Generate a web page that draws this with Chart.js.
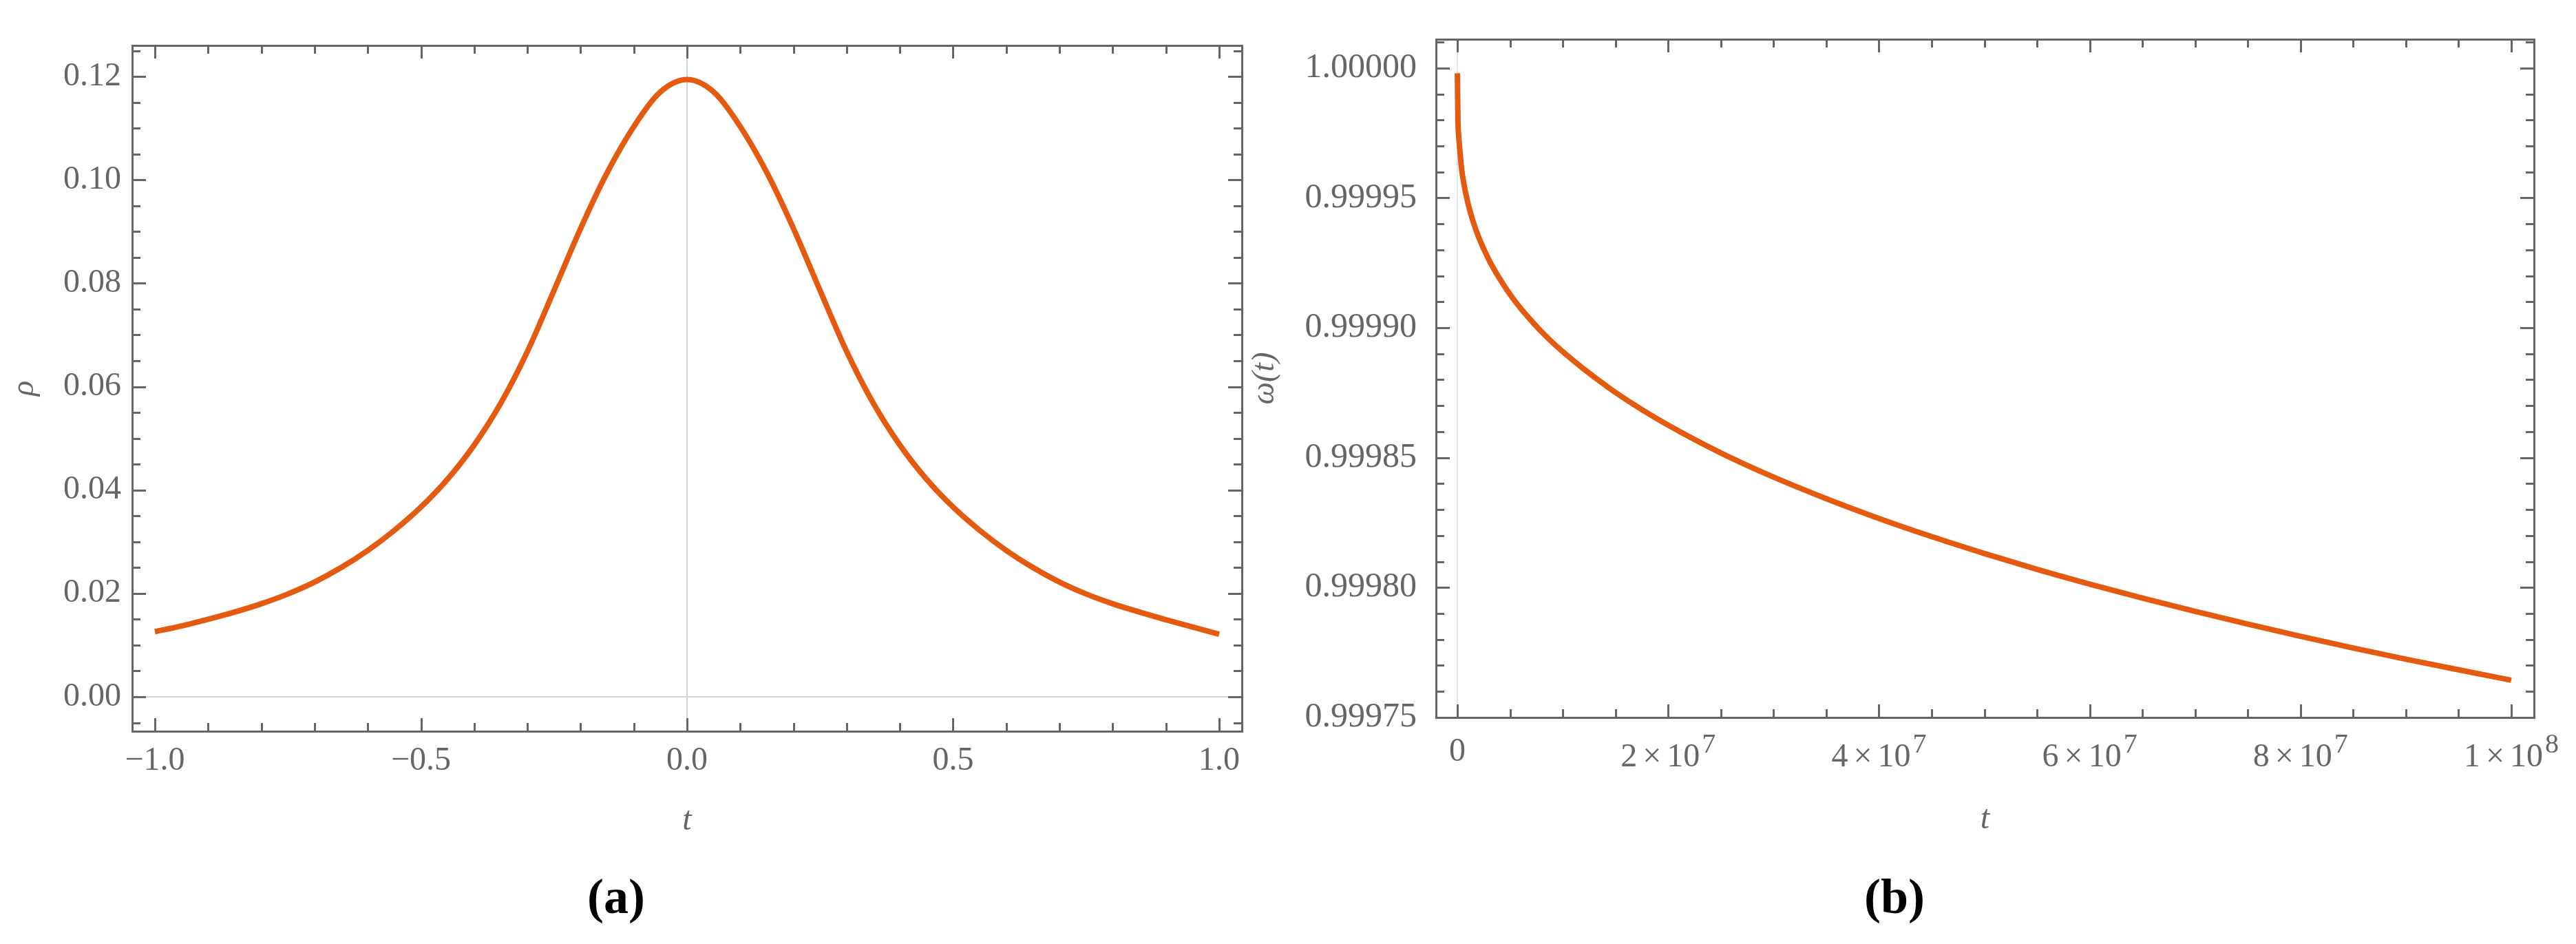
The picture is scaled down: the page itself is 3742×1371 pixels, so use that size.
<!DOCTYPE html>
<html>
<head>
<meta charset="utf-8">
<title>ρ(t) and ω(t)</title>
<script src="https://cdn.jsdelivr.net/npm/chart.js@4.4.1/dist/chart.umd.min.js"></script>
<style>
  html, body { margin: 0; padding: 0; background: #ffffff; }
  body { width: 3742px; height: 1371px; position: relative; overflow: hidden; }
  canvas { position: absolute; top: 0; }
  #chartA { left: 0; }
  #chartB { left: 1780px; }
</style>
</head>
<body>
<canvas id="chartA" width="1840" height="1371"></canvas>
<canvas id="chartB" width="1962" height="1371"></canvas>
<script>
// ---------------- data ----------------
// panel (a): rho versus t
const tA = [-1.00, -0.95, -0.90, -0.85, -0.80, -0.75, -0.70, -0.65, -0.60, -0.55,
            -0.50, -0.45, -0.40, -0.35, -0.30, -0.25, -0.20, -0.15, -0.10, -0.05,
             0.00,  0.05,  0.10,  0.15,  0.20,  0.25,  0.30,  0.35,  0.40,  0.45,
             0.50,  0.55,  0.60,  0.65,  0.70,  0.75,  0.80,  0.85,  0.90,  0.95, 1.00];
const rhoA = [0.0126, 0.0137, 0.0150, 0.0164, 0.0180, 0.0199, 0.0222, 0.0250, 0.0283, 0.0322,
              0.0367, 0.0421, 0.0487, 0.0568, 0.0668, 0.0786, 0.0906, 0.1014, 0.1103, 0.1170,
              0.1194, 0.1170, 0.1103, 0.1014, 0.0906, 0.0786, 0.0668, 0.0568, 0.0487, 0.0421,
              0.0367, 0.0322, 0.0283, 0.0250, 0.0222, 0.0199, 0.0180, 0.0164, 0.0149, 0.0135, 0.0121];
const xTicksA = [-1, -0.5, 0, 0.5, 1];
const xTickLabelsA = ['−1.0', '−0.5', '0.0', '0.5', '1.0'];
const yTicksA = [0, 0.02, 0.04, 0.06, 0.08, 0.10, 0.12];
const yTickLabelsA = ['0.00', '0.02', '0.04', '0.06', '0.08', '0.10', '0.12'];
const axisTitlesA = ['t', 'ρ'];

// panel (b): omega(t) versus t
const tB = [0, 5e4, 1e5, 2e5, 4e5, 6e5, 1e6, 1.5e6, 2e6, 3e6, 4e6, 5e6, 6e6, 7e6, 8e6, 9e6,
            1e7, 1.1e7, 1.2e7, 1.3e7, 1.4e7, 1.5e7, 1.75e7, 2e7, 2.5e7, 3e7, 3.5e7, 4e7,
            4.5e7, 5e7, 5.5e7, 6e7, 6.5e7, 7e7, 7.5e7, 8e7, 8.5e7, 9e7, 9.5e7, 1e8];
const omegaB = [0.9999980, 0.9999801, 0.9999751, 0.9999700, 0.9999612, 0.9999558, 0.9999480,
                0.9999408, 0.9999351, 0.9999261, 0.9999190, 0.9999128, 0.9999075, 0.9999028,
                0.9998984, 0.9998944, 0.9998908, 0.9998874, 0.9998841, 0.9998810, 0.9998780,
                0.9998751, 0.9998685, 0.9998625, 0.9998518, 0.9998425, 0.9998342, 0.9998266,
                0.9998196, 0.9998131, 0.9998070, 0.9998013, 0.9997959, 0.9997908, 0.9997859,
                0.9997812, 0.9997767, 0.9997724, 0.9997683, 0.9997643];
const xTicksB = [0, 2e7, 4e7, 6e7, 8e7, 1e8];
const xTickMantissaB = ['0', '2', '4', '6', '8', '1'];
const xTickExponentB = ['', '7', '7', '7', '7', '8'];
const yTicksB = [0.99975, 0.9998, 0.99985, 0.9999, 0.99995, 1];
const yTickLabelsB = ['0.99975', '0.99980', '0.99985', '0.99990', '0.99995', '1.00000'];
const axisTitlesB = ['t', 'ω(t)'];

const captions = ['(a)', '(b)'];

// ---------------- styling ----------------
const SERIF = '"Liberation Serif", "Times New Roman", serif';
const GRAY = '#666666';
const CURVE = 'rgb(228, 90, 14)';
const TRANSPARENT = 'rgba(0,0,0,0)';

// frame, inward ticks on all four sides, custom labels and captions
const frameTicksPlugin = {
  id: 'frameTicks',
  afterDraw(chart, args, o) {
    const ctx = chart.ctx, a = chart.chartArea;
    const xs = chart.scales.x, ys = chart.scales.y;
    ctx.save();
    ctx.strokeStyle = GRAY;
    ctx.lineWidth = 3;
    ctx.lineCap = 'butt';
    ctx.beginPath();
    for (let k = o.xFrom; k <= o.xTo; k++) {
      const px = Math.round(xs.getPixelForValue(o.xOrigin + k * o.xStep)) + 0.5;
      const len = (k % o.xMajor === 0) ? 19 : 12;
      ctx.moveTo(px, a.bottom); ctx.lineTo(px, a.bottom - len);
      ctx.moveTo(px, a.top); ctx.lineTo(px, a.top + len);
    }
    for (let k = o.yFrom; k <= o.yTo; k++) {
      const py = Math.round(ys.getPixelForValue(o.yOrigin + k * o.yStep)) + 0.5;
      const len = (k % o.yMajor === 0) ? 20 : 12;
      ctx.moveTo(a.left, py); ctx.lineTo(a.left + len, py);
      ctx.moveTo(a.right, py); ctx.lineTo(a.right - len, py);
    }
    ctx.stroke();
    ctx.strokeRect(Math.round(a.left) + 0.5, Math.round(a.top) + 0.5,
                   Math.round(a.right - a.left), Math.round(a.bottom - a.top));

    if (o.sciLabels) {
      const base = '48px ' + SERIF, sup = '40px ' + SERIF;
      ctx.fillStyle = GRAY;
      ctx.textBaseline = 'alphabetic';
      xTicksB.forEach((v, i) => {
        const cx = xs.getPixelForValue(v);
        const m = xTickMantissaB[i], e = xTickExponentB[i];
        ctx.font = base;
        if (!e) {
          ctx.textAlign = 'center';
          ctx.fillText(m, cx, 1105);
          return;
        }
        ctx.textAlign = 'left';
        const wm = ctx.measureText(m).width, wx = ctx.measureText('×').width, wt = ctx.measureText('10').width;
        ctx.font = sup;
        const we = ctx.measureText(e).width;
        const g = 8, ge = 3;
        let x = cx - (wm + g + wx + g + wt + ge + we) / 2;
        ctx.font = base;
        ctx.fillText(m, x, 1113); x += wm + g;
        ctx.fillText('×', x, 1113); x += wx + g;
        ctx.fillText('10', x, 1113); x += wt + ge;
        ctx.font = sup;
        ctx.fillText(e, x, 1093);
      });
    }

    ctx.fillStyle = '#000000';
    ctx.font = 'bold 72px ' + SERIF;
    ctx.textAlign = 'center';
    ctx.textBaseline = 'alphabetic';
    ctx.fillText(o.caption, o.captionX, 1326);
    ctx.restore();
  }
};

const commonOpts = {
  responsive: false,
  animation: false,
  devicePixelRatio: 1,
  events: []
};

// ---------------- chart (a) ----------------
new Chart(document.getElementById('chartA'), {
  type: 'line',
  data: {
    datasets: [{
      data: tA.map((t, i) => ({ x: t, y: rhoA[i] })),
      borderColor: CURVE,
      borderWidth: 8,
      pointRadius: 0,
      cubicInterpolationMode: 'monotone',
      fill: false
    }]
  },
  options: {
    ...commonOpts,
    layout: { padding: { left: 0, top: 66, right: 36, bottom: 0 } },
    plugins: {
      legend: { display: false },
      tooltip: { enabled: false },
      frameTicks: {
        xOrigin: 0, xStep: 0.1, xFrom: -10, xTo: 10, xMajor: 5,
        yOrigin: 0, yStep: 0.005, yFrom: -1, yTo: 25, yMajor: 4,
        sciLabels: false, caption: captions[0], captionX: 895
      }
    },
    scales: {
      x: {
        type: 'linear', position: 'bottom', min: -1.0427, max: 1.0427,
        afterBuildTicks: s => { s.ticks = xTicksA.map(v => ({ value: v })); },
        afterFit: s => { s.height = 309; },
        ticks: {
          callback: v => xTickLabelsA[xTicksA.indexOf(v)],
          font: { family: SERIF, size: 48 }, color: GRAY, padding: 15,
          maxRotation: 0, minRotation: 0, autoSkip: false
        },
        grid: { drawTicks: false, lineWidth: 2,
                color: c => (c.tick && c.tick.value === 0) ? '#d4d4d4' : TRANSPARENT },
        border: { display: false },
        title: { display: true, text: axisTitlesA[0], color: GRAY,
                 font: { family: SERIF, size: 48, style: 'italic' },
                 padding: { top: 0, bottom: 150 } }
      },
      y: {
        type: 'linear', position: 'left', min: -0.00666, max: 0.126,
        afterBuildTicks: s => { s.ticks = yTicksA.map(v => ({ value: v })); },
        afterFit: s => { s.width = 192; },
        ticks: {
          callback: v => yTickLabelsA[yTicksA.indexOf(v)],
          font: { family: SERIF, size: 48 }, color: GRAY, padding: 16, autoSkip: false
        },
        grid: { drawTicks: false, lineWidth: 2,
                color: c => (c.tick && c.tick.value === 0) ? '#d4d4d4' : TRANSPARENT },
        border: { display: false },
        title: { display: true, text: axisTitlesA[1], color: GRAY,
                 font: { family: SERIF, size: 46, style: 'italic' },
                 padding: { top: 8, bottom: 0 } }
      }
    }
  },
  plugins: [frameTicksPlugin]
});

// ---------------- chart (b) ----------------
new Chart(document.getElementById('chartB'), {
  type: 'line',
  data: {
    datasets: [{
      data: tB.map((t, i) => ({ x: t, y: omegaB[i] })),
      borderColor: CURVE,
      borderWidth: 8,
      pointRadius: 0,
      cubicInterpolationMode: 'monotone',
      fill: false
    }]
  },
  options: {
    ...commonOpts,
    layout: { padding: { left: 0, top: 57, right: 61, bottom: 0 } },
    plugins: {
      legend: { display: false },
      tooltip: { enabled: false },
      frameTicks: {
        xOrigin: 0, xStep: 5e6, xFrom: 0, xTo: 20, xMajor: 4,
        yOrigin: 0.99975, yStep: 1e-5, yFrom: 0, yTo: 26, yMajor: 5,
        sciLabels: true, caption: captions[1], captionX: 972
      }
    },
    scales: {
      x: {
        type: 'linear', position: 'bottom', min: -2.03e6, max: 1.0216e8,
        afterBuildTicks: s => { s.ticks = xTicksB.map(v => ({ value: v })); },
        afterFit: s => { s.height = 329; },
        ticks: { display: false },
        grid: { drawTicks: false, lineWidth: 2,
                color: c => (c.tick && c.tick.value === 0) ? '#e2e2e2' : TRANSPARENT },
        border: { display: false },
        title: { display: true, text: axisTitlesB[0], color: GRAY,
                 font: { family: SERIF, size: 48, style: 'italic' },
                 padding: { top: 0, bottom: 152 } }
      },
      y: {
        type: 'linear', position: 'left', min: 0.99974995, max: 1.0000111,
        afterBuildTicks: s => { s.ticks = yTicksB.map(v => ({ value: v })); },
        afterFit: s => { s.width = 306; },
        ticks: {
          callback: v => yTickLabelsB[yTicksB.indexOf(v)],
          font: { family: SERIF, size: 50 }, color: GRAY, padding: 20, autoSkip: false
        },
        grid: { display: false },
        border: { display: false },
        title: { display: true, text: axisTitlesB[1], color: GRAY,
                 font: { family: SERIF, size: 46, style: 'italic' },
                 padding: { top: 30, bottom: 0 } }
      }
    }
  },
  plugins: [frameTicksPlugin]
});
</script>
</body>
</html>
